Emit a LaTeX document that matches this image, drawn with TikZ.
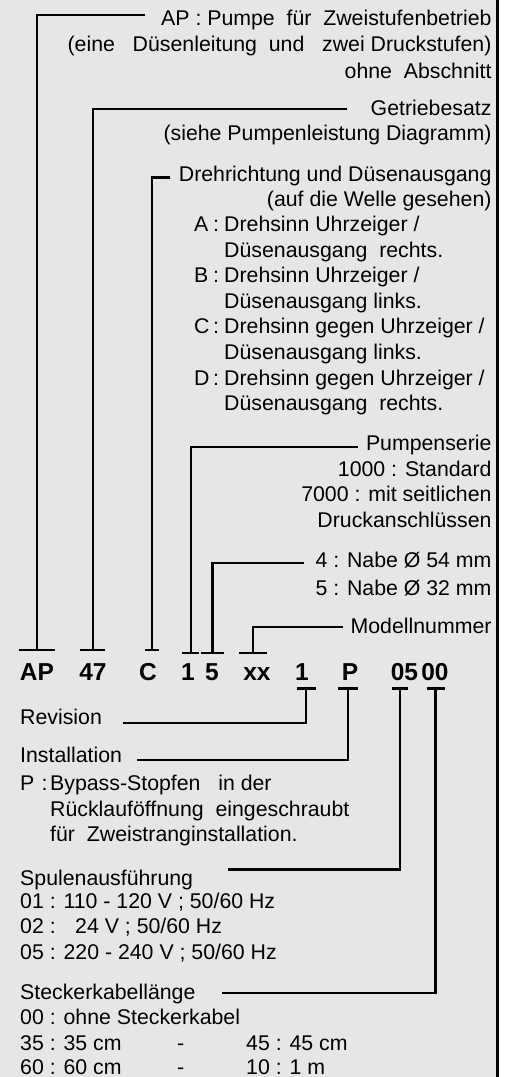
\documentclass[tikz,border=0pt]{standalone}
\usepackage{fontspec}
\setmainfont{Liberation Sans}
\usetikzlibrary{math}
\definecolor{panelgray}{RGB}{230,230,230}
\tikzset{
lead/.style={line width=2.4pt},
tee/.style={minimum width=#1, minimum height=0pt, inner sep=0pt, outer sep=0pt},
code/.style={anchor=base, inner sep=0pt, font=\fontsize{24.5}{28}\selectfont\bfseries},
rlab/.style={anchor=base east, inner sep=0pt, font=\fontsize{21.3}{25.5}\selectfont},
llab/.style={anchor=base west, inner sep=0pt, font=\fontsize{21.3}{25.5}\selectfont},
}

\begin{document}
\begin{tikzpicture}[x=1pt, y=-1pt]
    \tikzmath{ \rx=491.7; \ls=25.6; };  % right edge of the labels, line spacing

    % panel
    \useasboundingbox (0,0) rectangle (509,1077);
    \fill[white] (0,0) rectangle (509,1077);
    \fill[panelgray] (0,0) rectangle (496.3,1077);
    \draw[line width=2.3pt] (497.4,0) -- (497.4,1077);

    %code line
    \node[code] (cAP) at (37,680)  {AP};
    \node[code] (c47) at (93,680)  {47};
    \node[code] (cC)  at (148,680) {C};
    \node[code] (c1)  at (188,680) {1};
    \node[code] (c5)  at (212,680) {5};
    \node[code] (cxx) at (257,680) {xx};
    \node[code] (cr)  at (302,680) {1};
    \node[code] (cP)  at (350,680) {P};
    \node[code] (c05) at (404.5,680) {05};
    \node[code] (c00) at (435,680) {00};

    %tees above the code
    \node[tee=36pt] (tAP) at (36.7,650)  { };
    \node[tee=25pt] (t47) at (92.7,650)  { };
    \node[tee=14pt] (tC)  at (151.7,650) { };
    \node[tee=17pt] (t1)  at (190.7,652.7) { };
    \node[tee=23pt] (t5)  at (212.3,652.7) { };
    \node[tee=28pt] (txx) at (253,652.7)   { };

    %tees below the code
    \node[tee=19pt] (tr)  at (306,688.3)   { };
    \node[tee=20pt] (tP)  at (348,688.3)   { };
    \node[tee=16pt] (t05) at (400,688.3)   { };
    \node[tee=18pt] (t00) at (435.5,688.3) { };

    %labels at right
    \node[rlab] (rAPa) at (\rx,25)    {AP : Pumpe~ für~ Zweistufenbetrieb};
    \node[rlab] (rAPb) at (\rx,51.5)  {(eine~~ Düsenleitung~ und~~ zwei Druckstufen)};
    \node[rlab] (rAPc) at (\rx,78)    {ohne~ Abschnitt};
    \node[rlab] (rGa)  at (\rx,115)   {Getriebesatz};
    \node[rlab] (rGb)  at (\rx,140.5) {(siehe Pumpenleistung Diagramm)};
    \node[rlab] (rDa)  at (\rx,181)   {Drehrichtung und Düsenausgang};
    \node[rlab] (rDb)  at (\rx,206)   {(auf die Welle gesehen)};

    \node[llab] (rA1) at (194,231.5)      {\makebox[19pt][l]{A}\makebox[11pt][l]{:}Drehsinn Uhrzeiger /};
    \node[llab] (rA2) at (224,231.5+\ls)   {Düsenausgang~ rechts.};
    \node[llab] (rB1) at (194,231.5+2*\ls) {\makebox[19pt][l]{B}\makebox[11pt][l]{:}Drehsinn Uhrzeiger /};
    \node[llab] (rB2) at (224,231.5+3*\ls) {Düsenausgang links.};
    \node[llab] (rC1) at (194,231.5+4*\ls) {\makebox[19pt][l]{C}\makebox[11pt][l]{:}Drehsinn gegen Uhrzeiger /};
    \node[llab] (rC2) at (224,231.5+5*\ls) {Düsenausgang links.};
    \node[llab] (rD1) at (194,231.5+6*\ls) {\makebox[19pt][l]{D}\makebox[11pt][l]{:}Drehsinn gegen Uhrzeiger /};
    \node[llab] (rD2) at (224,231.5+7*\ls) {Düsenausgang~ rechts.};

    \node[rlab] (rSa) at (\rx,450.7)      {Pumpenserie};
    \node[rlab] (rSb) at (\rx,450.7+\ls)   {1000 : Standard};
    \node[rlab] (rSc) at (\rx,450.7+2*\ls) {7000 : mit seitlichen};
    \node[rlab] (rSd) at (\rx,450.7+3*\ls) {Druckanschlüssen};
    \node[rlab] (rNa) at (\rx,567)        {4 : Nabe Ø 54 mm};
    \node[rlab] (rNb) at (\rx,595)        {5 : Nabe Ø 32 mm};
    \node[rlab] (rM)  at (\rx,633)        {Modellnummer};

    %labels at left
    \node[llab] (lRev) at (20,724) {Revision};
    \node[llab] (lIna) at (20,762) {Installation};
    \node[llab] (lInb) at (20,790.7) {\makebox[21.5pt][l]{P}\makebox[8.5pt][l]{:}Bypass-Stopfen~~ in der};
    \node[llab] (lInc) at (50,790.7+\ls)   {Rücklauföffnung~ eingeschraubt};
    \node[llab] (lInd) at (50,790.7+2*\ls) {für~ Zweistranginstallation.};

    \node[llab] (lSpa) at (20,885.5) {Spulenausführung};
    \node[llab] (lSpb) at (20,908)   {01 : 110 - 120 V ; 50/60 Hz};
    \node[llab] (lSpc) at (20,933.5) {02 :\hspace{19.5pt}24 V ; 50/60 Hz};
    \node[llab] (lSpd) at (20,959)   {05 : 220 - 240 V ; 50/60 Hz};

    \node[llab] (lSta) at (20,999)    {Steckerkabellänge};
    \node[llab] (lStb) at (20,1024.5) {00 : ohne Steckerkabel};
    \node[llab] (lStc) at (20,1050)   {35 : 35 cm};
    \node[llab] (lStd) at (177,1050)  {-};
    \node[llab] (lSte) at (246,1050)  {45 : 45 cm};
    \node[llab] (lStf) at (20,1074.5)   {60 : 60 cm};
    \node[llab] (lStg) at (177,1074.5)  {-};
    \node[llab] (lSth) at (246,1074.5)  {10 : 1 m};

    %free ends of the leads
    \coordinate (eAP) at (145,15);
    \coordinate (eG)  at (347,109);
    \coordinate (eD)  at (170,177.3);
    \coordinate (eS)  at (358,446.7);
    \coordinate (eN)  at (304,562.7);
    \coordinate (eM)  at (343,626.7);
    \coordinate (eR)  at (123,722.7);
    \coordinate (eI)  at (137,760);
    \coordinate (eSp) at (228,869.5);
    \coordinate (eSt) at (222,992.7);

    %leads
    \draw[lead] (eAP) -| (tAP.center);
    \draw[lead] (eG)  -| (t47.center);
    \draw[lead] (eD)  -| (tC.center);
    \draw[lead] (eS)  -| (t1.center);
    \draw[lead] (eN)  -| (t5.center);
    \draw[lead] (eM)  -| (txx.center);
    \draw[lead] (eR)  -| (tr.center);
    \draw[lead] (eI)  -| (tP.center);
    \draw[lead] (eSp) -| (t05.center);
    \draw[lead] (eSt) -| (t00.center);

    %tee bars
    \draw[lead] (tAP.west) -- (tAP.east);
    \draw[lead] (t47.west) -- (t47.east);
    \draw[lead] (tC.west)  -- (tC.east);
    \draw[lead] (t1.west)  -- (t1.east);
    \draw[lead] (t5.west)  -- (t5.east);
    \draw[lead] (txx.west) -- (txx.east);
    \draw[lead] (tr.west)  -- (tr.east);
    \draw[lead] (tP.west)  -- (tP.east);
    \draw[lead] (t05.west) -- (t05.east);
    \draw[lead] (t00.west) -- (t00.east);

\end{tikzpicture}
\end{document}
